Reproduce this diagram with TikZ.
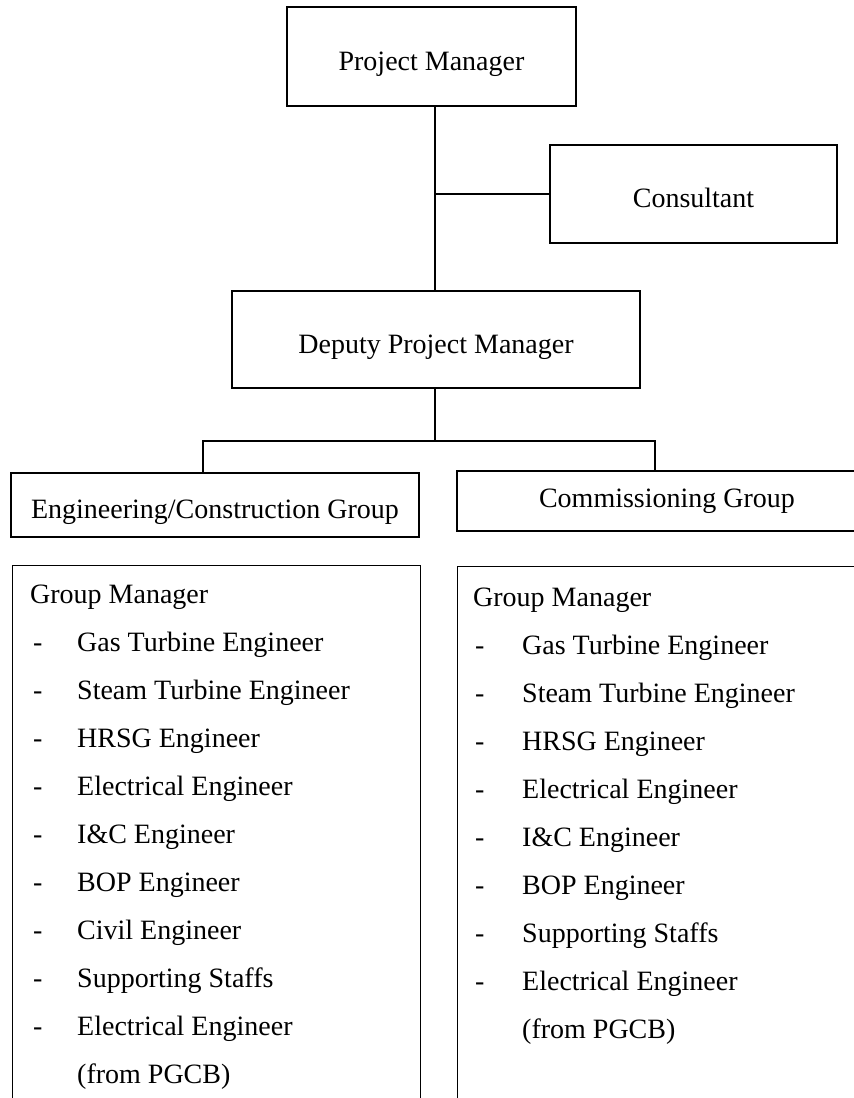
\documentclass[tikz,border=0pt]{standalone}
\usepackage{fontspec}
\setmainfont{Liberation Serif}

\begin{document}
\begin{tikzpicture}[x=1pt, y=-1pt,
    box/.style={draw, line width=1.3pt, inner sep=0pt, font=\fontsize{28}{34}\selectfont},
    lowtext/.style={text height=27pt, text depth=0pt},
    link/.style={draw, line width=2.2pt},
    item/.style={inner sep=0pt, anchor=base west, font=\fontsize{28}{34}\selectfont}]
    \useasboundingbox (0,0) rectangle (854,1098);
    \clip (0,0) rectangle (854,1098);

    % top of the chart
    \node[box, lowtext, minimum width=289pt, minimum height=99pt] (pm) at (431.5,56.5) {Project Manager};
    \node[box, lowtext, minimum width=287pt, minimum height=98pt] (cons) at (693.5,194) {Consultant};
    \node[box, lowtext, minimum width=408pt, minimum height=97pt] (dpm) at (436,339.5) {Deputy Project Manager};
    \coordinate (trunk) at (435,194);
    \draw[link] (pm.south -| trunk) -- (dpm.north -| trunk);
    \draw[link] (trunk) -- (cons.west);

    % the two groups
    \node[box, lowtext, minimum width=408pt, minimum height=64pt] (eng) at (215,505) {Engineering/Construction Group};
    \node[box, minimum width=420pt, minimum height=60pt] (comm) at (667,501) {Commissioning Group};
    \coordinate (split) at (435,441);
    \coordinate (engtop) at (203,441);
    \coordinate (commtop) at (655,441);
    \draw[link] (dpm.south -| split) -- (split);
    \draw[link] (eng.north -| engtop) -- (engtop) -- (commtop) -- (comm.north -| commtop);

    % staff lists
    \node[box, anchor=north west, minimum width=408pt, minimum height=560pt] (englist) at (12,565) {};
    \node[box, anchor=north west, minimum width=420pt, minimum height=560pt] (commlist) at (457,566) {};

    \node[item] (enghead) at (30,603) {Group Manager};
    \foreach \txt [count=\i from 1] in {Gas Turbine Engineer, Steam Turbine Engineer, HRSG Engineer,
        Electrical Engineer, I\&C Engineer, BOP Engineer, Civil Engineer, Supporting Staffs,
        Electrical Engineer} {
      \node[item] (engd\i) at (33,{603+48*\i}) {-};
      \node[item] (engt\i) at (77,{603+48*\i}) {\txt};
    }
    \node[item] (engpgcb) at (77,1083) {(from PGCB)};

    \node[item] (commhead) at (473,606) {Group Manager};
    \foreach \txt [count=\i from 1] in {Gas Turbine Engineer, Steam Turbine Engineer, HRSG Engineer,
        Electrical Engineer, I\&C Engineer, BOP Engineer, Supporting Staffs,
        Electrical Engineer} {
      \node[item] (commd\i) at (475,{606+48*\i}) {-};
      \node[item] (commt\i) at (522,{606+48*\i}) {\txt};
    }
    \node[item] (commpgcb) at (522,1038) {(from PGCB)};
\end{tikzpicture}
\end{document}
